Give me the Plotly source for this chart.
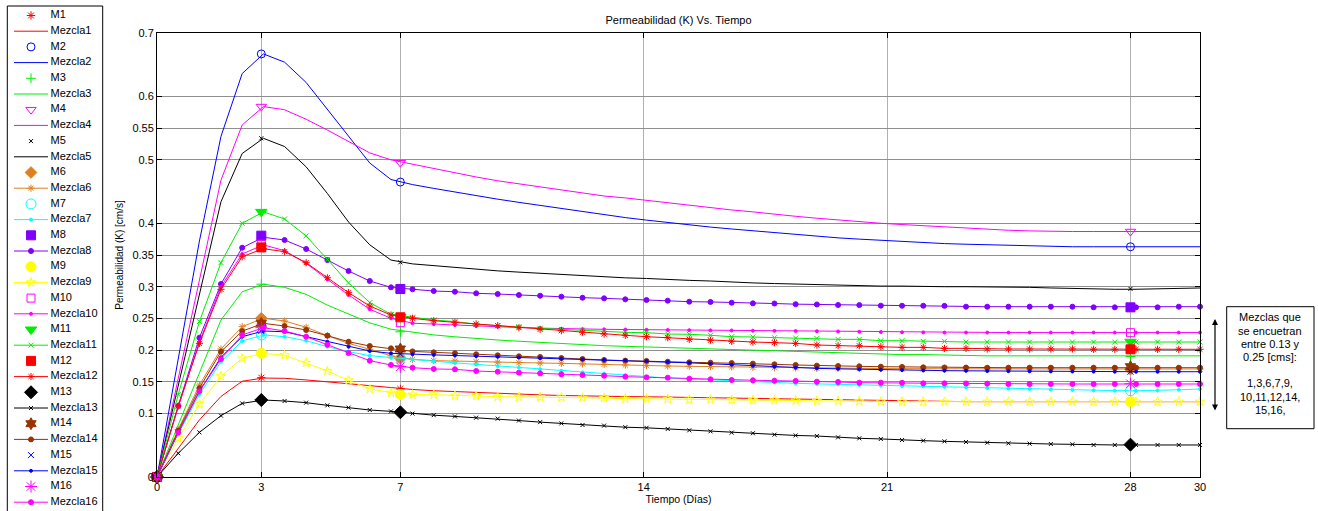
import plotly.graph_objects as go

W, H = 1318, 511

# ---------------- data ----------------
tiempo = [0, 0.61, 1.22, 1.84, 2.45, 3.06, 3.67, 4.29, 4.9, 5.51, 6.12, 6.73, 7.35, 7.96, 8.57,
          9.18, 9.8, 10.41, 11.02, 11.63, 12.24, 12.86, 13.47, 14.08, 14.69, 15.31, 15.92, 16.53,
          17.14, 17.76, 18.37, 18.98, 19.59, 20.2, 20.82, 21.43, 22.04, 22.65, 23.27, 23.88, 24.49,
          25.1, 25.71, 26.33, 26.94, 27.55, 28.16, 28.78, 29.39, 30]
dias_m = [0, 3, 7, 28]

mezcla1 = [0, 0.045, 0.090, 0.127, 0.151, 0.156, 0.1556, 0.153, 0.150, 0.1466, 0.1435, 0.140, 0.138,
           0.136, 0.1345, 0.133, 0.1318, 0.1305, 0.1295, 0.1285, 0.1277, 0.127, 0.1268, 0.1265, 0.126, 0.1255, 0.125, 0.1245, 0.124, 0.1233, 0.1225,
           0.122, 0.121, 0.1205, 0.120, 0.1195, 0.119, 0.119, 0.1188, 0.1188, 0.1188, 0.1188, 0.1188, 0.1188, 0.1188, 0.1188, 0.1188, 0.1188, 0.1188, 0.1188]
mezcla2 = [0, 0.188, 0.372, 0.537, 0.636, 0.667, 0.654, 0.622, 0.580, 0.537, 0.495, 0.469, 0.461,
           0.455, 0.449, 0.443, 0.438, 0.433, 0.428, 0.423, 0.418, 0.413, 0.409, 0.405, 0.401, 0.397, 0.394, 0.391, 0.388, 0.385, 0.382,
           0.379, 0.377, 0.375, 0.373, 0.371, 0.369, 0.368, 0.367, 0.366, 0.365, 0.364, 0.364, 0.363, 0.363, 0.363, 0.363, 0.363, 0.363, 0.363]
mezcla3 = [0, 0.083, 0.166, 0.2475, 0.292, 0.304, 0.299, 0.288, 0.271, 0.257, 0.243, 0.233, 0.228,
           0.224, 0.221, 0.218, 0.216, 0.214, 0.212, 0.210, 0.209, 0.207, 0.206, 0.205, 0.204, 0.202, 0.201, 0.200, 0.199, 0.198, 0.197,
           0.196, 0.195, 0.194, 0.194, 0.193, 0.193, 0.192, 0.192, 0.191, 0.191, 0.191, 0.191, 0.191, 0.191, 0.191, 0.191, 0.191, 0.191, 0.191]
mezcla4 = [0, 0.155, 0.310, 0.468, 0.555, 0.584, 0.579, 0.564, 0.547, 0.529, 0.511, 0.500, 0.493,
           0.486, 0.479, 0.473, 0.467, 0.462, 0.457, 0.452, 0.447, 0.443, 0.440, 0.436, 0.432, 0.428, 0.424, 0.421, 0.418, 0.414, 0.411,
           0.408, 0.405, 0.402, 0.400, 0.398, 0.396, 0.394, 0.392, 0.390, 0.389, 0.388, 0.387, 0.387, 0.387, 0.387, 0.387, 0.387, 0.387, 0.387]
mezcla5 = [0, 0.144, 0.288, 0.434, 0.510, 0.534, 0.521, 0.489, 0.447, 0.402, 0.366, 0.342, 0.336,
           0.333, 0.330, 0.327, 0.325, 0.323, 0.321, 0.319, 0.317, 0.315, 0.314, 0.313, 0.311, 0.310, 0.309, 0.307, 0.306, 0.305, 0.304,
           0.303, 0.303, 0.302, 0.301, 0.301, 0.300, 0.300, 0.300, 0.300, 0.300, 0.299, 0.298, 0.297, 0.296, 0.296, 0.296, 0.297, 0.298, 0.298]
mezcla6 = [0, 0.075, 0.145, 0.2018, 0.237, 0.2502, 0.246, 0.236, 0.2228, 0.2107, 0.2013, 0.191, 0.1855,
           0.1834, 0.1828, 0.1818, 0.181, 0.1802, 0.1797, 0.1792, 0.1782, 0.1775, 0.1766, 0.1755, 0.175, 0.1745, 0.174, 0.1734, 0.1728, 0.1723, 0.1718,
           0.1713, 0.1712, 0.171, 0.171, 0.1708, 0.1706, 0.1705, 0.1704, 0.1703, 0.1703, 0.1703, 0.1703, 0.1703, 0.1703, 0.1703, 0.1703, 0.1703, 0.1703, 0.1703]
mezcla7 = [0, 0.068, 0.130, 0.1818, 0.2144, 0.2239, 0.2212, 0.2149, 0.2054, 0.1976, 0.1913, 0.1881, 0.185,
           0.1825, 0.180, 0.1775, 0.175, 0.1725, 0.170, 0.1675, 0.165, 0.163, 0.1605, 0.158, 0.156, 0.1545, 0.153, 0.1515, 0.150, 0.149, 0.1477,
           0.1468, 0.146, 0.145, 0.1443, 0.1437, 0.143, 0.1422, 0.1414, 0.1405, 0.1396, 0.1388, 0.138, 0.1373, 0.1367, 0.1362, 0.136, 0.1365, 0.1375, 0.1387]
mezcla8 = [0, 0.112, 0.2197, 0.3043, 0.3615, 0.378, 0.3736, 0.3595, 0.342, 0.3248, 0.309, 0.299, 0.296,
           0.2932, 0.2921, 0.2896, 0.2885, 0.2869, 0.2858, 0.2843, 0.2827, 0.2817, 0.2801, 0.279, 0.278, 0.2764, 0.276, 0.2748, 0.2738, 0.2735, 0.2725,
           0.272, 0.2712, 0.271, 0.2701, 0.270, 0.270, 0.2698, 0.2685, 0.2685, 0.2685, 0.2685, 0.2685, 0.2685, 0.2675, 0.2675, 0.2675, 0.2675, 0.2685, 0.2685]
mezcla9 = [0, 0.061, 0.115, 0.159, 0.187, 0.195, 0.192, 0.180, 0.167, 0.1525, 0.139, 0.133, 0.130,
           0.1298, 0.1282, 0.1277, 0.1266, 0.1263, 0.126, 0.1256, 0.125, 0.1245, 0.1235, 0.1233, 0.123, 0.122, 0.1219, 0.1214, 0.1212, 0.121, 0.1205,
           0.120, 0.1198, 0.1195, 0.119, 0.1188, 0.1188, 0.1188, 0.1188, 0.1188, 0.1188, 0.1188, 0.1188, 0.1188, 0.1188, 0.1188, 0.1188, 0.1188, 0.1188, 0.1188]
mezcla10 = [0, 0.110, 0.213, 0.300, 0.3516, 0.366, 0.3568, 0.3369, 0.3117, 0.287, 0.2644, 0.2502, 0.2425,
            0.241, 0.2395, 0.238, 0.2368, 0.2356, 0.2347, 0.2338, 0.2332, 0.2328, 0.2325, 0.2322, 0.2318, 0.2315, 0.2312, 0.231, 0.2307, 0.2304, 0.2302,
            0.2298, 0.2294, 0.229, 0.2286, 0.2282, 0.228, 0.2277, 0.2277, 0.2277, 0.2277, 0.2277, 0.2277, 0.2277, 0.2277, 0.2277, 0.2277, 0.2277, 0.2277, 0.2277]
mezcla11 = [0, 0.130, 0.245, 0.338, 0.400, 0.418, 0.4068, 0.380, 0.343, 0.306, 0.275, 0.2565, 0.252,
            0.2475, 0.245, 0.241, 0.2385, 0.237, 0.2344, 0.2328, 0.2317, 0.2297, 0.228, 0.2275, 0.2254, 0.225, 0.2234, 0.2212, 0.2207, 0.2196, 0.219,
            0.2186, 0.217, 0.217, 0.2149, 0.2149, 0.2139, 0.2139, 0.2128, 0.2128, 0.2128, 0.2128, 0.2128, 0.2128, 0.2128, 0.2128, 0.2128, 0.2128, 0.2128, 0.2128]
mezcla12 = [0, 0.112, 0.2107, 0.2959, 0.3473, 0.360, 0.3552, 0.3379, 0.3142, 0.2906, 0.2696, 0.2554, 0.2502,
            0.2464, 0.2438, 0.2412, 0.2386, 0.2354, 0.2328, 0.2307, 0.2281, 0.2254, 0.2234, 0.2212, 0.2196, 0.217, 0.2155, 0.2139, 0.2128, 0.2118, 0.2107,
            0.2081, 0.207, 0.207, 0.2054, 0.2044, 0.2044, 0.2028, 0.2028, 0.2018, 0.2018, 0.2018, 0.2018, 0.2018, 0.2013, 0.2013, 0.2013, 0.2013, 0.2013, 0.2013]
mezcla13 = [0, 0.0373, 0.0704, 0.0967, 0.116, 0.1214, 0.1198, 0.1172, 0.113, 0.1093, 0.1056, 0.1035, 0.100,
            0.0975, 0.0955, 0.0935, 0.092, 0.089, 0.0865, 0.0845, 0.082, 0.081, 0.0785, 0.0775, 0.0757, 0.0736, 0.072, 0.070, 0.069, 0.0667, 0.0655,
            0.0646, 0.0625, 0.061, 0.060, 0.0583, 0.0573, 0.0562, 0.0552, 0.0541, 0.0531, 0.0526, 0.052, 0.0515, 0.0505, 0.0505, 0.0505, 0.0505, 0.0505, 0.0505]
mezcla14 = [0, 0.073, 0.140, 0.1976, 0.230, 0.2423, 0.238, 0.2317, 0.2228, 0.2133, 0.2065, 0.2028, 0.198,
            0.1966, 0.195, 0.1934, 0.1918, 0.1903, 0.1892, 0.1876, 0.186, 0.1845, 0.1835, 0.183, 0.1818, 0.1808, 0.1802, 0.1797, 0.1787, 0.1776, 0.1766,
            0.1755, 0.175, 0.1745, 0.1739, 0.1735, 0.1729, 0.1727, 0.1725, 0.1723, 0.1723, 0.1723, 0.1723, 0.1723, 0.1723, 0.1723, 0.1723, 0.1723, 0.1723, 0.1723]
mezcla15 = [0, 0.070, 0.135, 0.1887, 0.2212, 0.2302, 0.229, 0.2212, 0.2133, 0.2054, 0.1986, 0.195, 0.1934,
            0.1925, 0.1915, 0.1905, 0.1895, 0.1885, 0.1875, 0.1865, 0.1855, 0.1847, 0.1838, 0.1828, 0.1815, 0.180, 0.1785, 0.177, 0.1755, 0.174, 0.1723,
            0.1713, 0.1705, 0.1698, 0.169, 0.1685, 0.168, 0.1677, 0.1674, 0.1671, 0.1669, 0.1667, 0.1665, 0.1663, 0.1662, 0.1661, 0.166, 0.166, 0.166, 0.166]
mezcla16 = [0, 0.070, 0.135, 0.186, 0.2239, 0.2354, 0.2302, 0.2212, 0.2085, 0.1955, 0.1834, 0.1766, 0.1723,
            0.1703, 0.1698, 0.1671, 0.166, 0.1645, 0.1634, 0.1619, 0.1608, 0.1597, 0.1582, 0.1571, 0.1566, 0.155, 0.154, 0.1529, 0.1525, 0.1519, 0.1515,
            0.1503, 0.1498, 0.1487, 0.1487, 0.1485, 0.1477, 0.1477, 0.1475, 0.1472, 0.1466, 0.1466, 0.1466, 0.1466, 0.1466, 0.1466, 0.1466, 0.1466, 0.1466, 0.1466]

m1 = [0, 0.1566, 0.1387, 0.1187]
m2 = [0, 0.667, 0.465, 0.363]
m3 = [0, 0.304, 0.229, 0.190]
m4 = [0, 0.584, 0.4955, 0.387]
m5 = [0, 0.534, 0.3385, 0.2966]
m6 = [0, 0.2502, 0.187, 0.170]
m7 = [0, 0.2239, 0.187, 0.136]
m8 = [0, 0.3805, 0.2964, 0.2675]
m9 = [0, 0.195, 0.130, 0.1187]
m10 = [0, 0.367, 0.2433, 0.2275]
m11 = [0, 0.418, 0.252, 0.2133]
m12 = [0, 0.362, 0.2518, 0.2013]
m13 = [0, 0.1214, 0.102, 0.051]
m14 = [0, 0.2423, 0.2018, 0.1739]
m15 = [0, 0.2302, 0.1939, 0.166]
m16 = [0, 0.2354, 0.1739, 0.147]

x_ticks = [0, 3, 7, 14, 21, 28, 30]
y_ticks = [0, 0.1, 0.15, 0.2, 0.25, 0.3, 0.35, 0.4, 0.5, 0.55, 0.6, 0.7]
y_ticktext = ['0', '0.1', '0.15', '0.2', '0.25', '0.3', '0.35', '0.4', '0.5', '0.55', '0.6', '0.7']

nota = ['Mezclas que', 'se encuetran', 'entre 0.13 y', '0.25 [cms]:', '1,3,6,7,9,', '10,11,12,14,', '15,16,']

M_series = [m1, m2, m3, m4, m5, m6, m7, m8, m9, m10, m11, m12, m13, m14, m15, m16]
Mez_series = [mezcla1, mezcla2, mezcla3, mezcla4, mezcla5, mezcla6, mezcla7, mezcla8,
              mezcla9, mezcla10, mezcla11, mezcla12, mezcla13, mezcla14, mezcla15, mezcla16]

# ---------------- styles ----------------
colors = ['#FF0000', '#0000FF', '#00EE00', '#FF00FF', '#000000', '#DF8020', '#00FFFF', '#8000FF',
          '#FFFF00', '#FF00FF', '#00EE00', '#FF0000', '#000000', '#993300', '#0000FF', '#FF00FF']
m_sym = ['asterisk-open', 'circle-open', 'cross-thin-open', 'triangle-down-open', 'x-thin-open',
         'diamond', 'circle-open', 'square', 'circle', 'square-open', 'triangle-down', 'square',
         'diamond', 'hexagram', 'x-thin-open', 'asterisk-open']
m_size = [7, 8, 7, 9, 4, 9, 10, 9, 10, 8, 10, 9, 10, 9, 6, 10]
l_sym = [None, None, None, None, None, 'asterisk-open', 'circle', 'circle', 'star-open', 'circle',
         'x-thin-open', 'asterisk-open', 'x-thin-open', 'circle', 'circle', 'circle']
l_size = [0, 0, 0, 0, 0, 6, 3, 5, 7, 3, 5, 6, 4, 5, 3, 5]

FONT = 'Arial, Liberation Sans, sans-serif'

fig = go.Figure()

for i in range(16):
    c = colors[i]
    fig.add_trace(go.Scatter(
        x=dias_m, y=M_series[i], mode='markers', name=f'M{i+1}', showlegend=False,
        cliponaxis=False,
        marker=dict(symbol=m_sym[i], size=m_size[i], color=c, line=dict(width=1, color=c))))
    if l_sym[i] is None:
        fig.add_trace(go.Scatter(
            x=tiempo, y=Mez_series[i], mode='lines', name=f'Mezcla{i+1}', showlegend=False,
            cliponaxis=False, line=dict(color=c, width=1)))
    else:
        fig.add_trace(go.Scatter(
            x=tiempo, y=Mez_series[i], mode='lines+markers', name=f'Mezcla{i+1}', showlegend=False,
            cliponaxis=False, line=dict(color=c, width=1),
            marker=dict(symbol=l_sym[i], size=l_size[i], color=c, line=dict(width=1, color=c))))

# ---------------- custom compact legend (left box) ----------------
step = 15.7
y0 = 15.5
labels = []
ys = []
for i in range(16):
    c = colors[i]
    ym = y0 + step * (2 * i)
    yl = y0 + step * (2 * i + 1)
    labels += [f'M{i+1}', f'Mezcla{i+1}']
    ys += [ym, yl]
    fig.add_trace(go.Scatter(
        x=[31], y=[ym], mode='markers', xaxis='x2', yaxis='y2', showlegend=False, hoverinfo='skip',
        cliponaxis=False,
        marker=dict(symbol=m_sym[i], size=m_size[i], color=c, line=dict(width=1, color=c))))
    fig.add_trace(go.Scatter(
        x=[14, 48], y=[yl, yl], mode='lines', xaxis='x2', yaxis='y2', showlegend=False,
        hoverinfo='skip', line=dict(color=c, width=1)))
    if l_sym[i] is not None:
        fig.add_trace(go.Scatter(
            x=[31], y=[yl], mode='markers', xaxis='x2', yaxis='y2', showlegend=False,
            hoverinfo='skip', cliponaxis=False,
            marker=dict(symbol=l_sym[i], size=l_size[i], color=c, line=dict(width=1, color=c))))

fig.add_trace(go.Scatter(
    x=[50.5] * len(labels), y=ys, text=labels, mode='text', textposition='middle right',
    xaxis='x2', yaxis='y2', showlegend=False, hoverinfo='skip', cliponaxis=False,
    textfont=dict(family=FONT, size=11, color='#000000')))

LEG_W = 0.11
fig.update_layout(
    xaxis2=dict(domain=[0, LEG_W], range=[0, LEG_W * W], visible=False, fixedrange=True,
                automargin=False, anchor='y2'),
    yaxis2=dict(domain=[0, 1], range=[H, 0], visible=False, fixedrange=True, anchor='x2',
                automargin=False),
)
fig.add_shape(type='rect', xref='x2', yref='y2', x0=7.3, x1=102.7, y0=6, y1=H + 5,
              line=dict(color='#000000', width=1), fillcolor='rgba(0,0,0,0)', layer='below')

# ---------------- main axes ----------------
fig.update_layout(
    template='none',
    width=W, height=H,
    margin=dict(l=0, r=0, t=0, b=0, pad=0),
    paper_bgcolor='white', plot_bgcolor='white',
    font=dict(family=FONT, size=11, color='#000000'),
    title=dict(text='Permeabilidad (K) Vs. Tiempo', x=678.5 / W, xanchor='center',
               xref='paper', yref='container',
               y=1 - 20 / H, yanchor='middle', font=dict(family=FONT, size=11, color='#000000')),
    xaxis=dict(domain=[157 / W, 1200 / W], range=[0, 30], tickvals=x_ticks, automargin=False,
               ticks='inside', ticklen=5, tickcolor='#000000', showline=True, linecolor='#000000',
               linewidth=1, mirror='ticks', showgrid=True, gridcolor='#b0b0b0', gridwidth=1,
               zeroline=False, tickfont=dict(size=11),
               title=dict(text='Tiempo (Días)', font=dict(size=10.5), standoff=0)),
    yaxis=dict(domain=[34 / H, 478 / H], range=[0, 0.7], tickvals=y_ticks, ticktext=y_ticktext,
               automargin=False,
               ticks='inside', ticklen=5, tickcolor='#000000', showline=True, linecolor='#000000',
               linewidth=1, mirror='ticks', showgrid=True, gridcolor='#8f8f8f', gridwidth=1,
               zeroline=False, tickfont=dict(size=11),
               title=dict(text='Permeabilidad (K) [cm/s]', font=dict(size=10), standoff=6)),
)

# ---------------- note box with double arrow ----------------
fig.add_shape(type='rect', xref='paper', yref='paper',
              x0=1226.7 / W, x1=1314 / W, y0=1 - 428.7 / H, y1=1 - 306.7 / H,
              line=dict(color='#000000', width=1), fillcolor='white')
note_y = [317.3, 331, 344.3, 356.7, 383.3, 396.7, 410]
for t, yy in zip(nota, note_y):
    fig.add_annotation(text=t, xref='paper', yref='paper', x=1270.3 / W, y=1 - yy / H,
                       xanchor='center', yanchor='middle', showarrow=False,
                       font=dict(family=FONT, size=11, color='#000000'))
fig.add_annotation(text='', xref='paper', yref='paper', x=1215 / W, y=1 - 319 / H,
                   ax=0, ay=93, axref='pixel', ayref='pixel', showarrow=True,
                   arrowhead=2, arrowside='end+start', arrowsize=1, arrowwidth=1.2,
                   arrowcolor='#000000')

fig.write_html('out.html', config={'displayModeBar': False},
               post_script="document.body.style.margin='0';document.body.style.overflow='hidden';")
